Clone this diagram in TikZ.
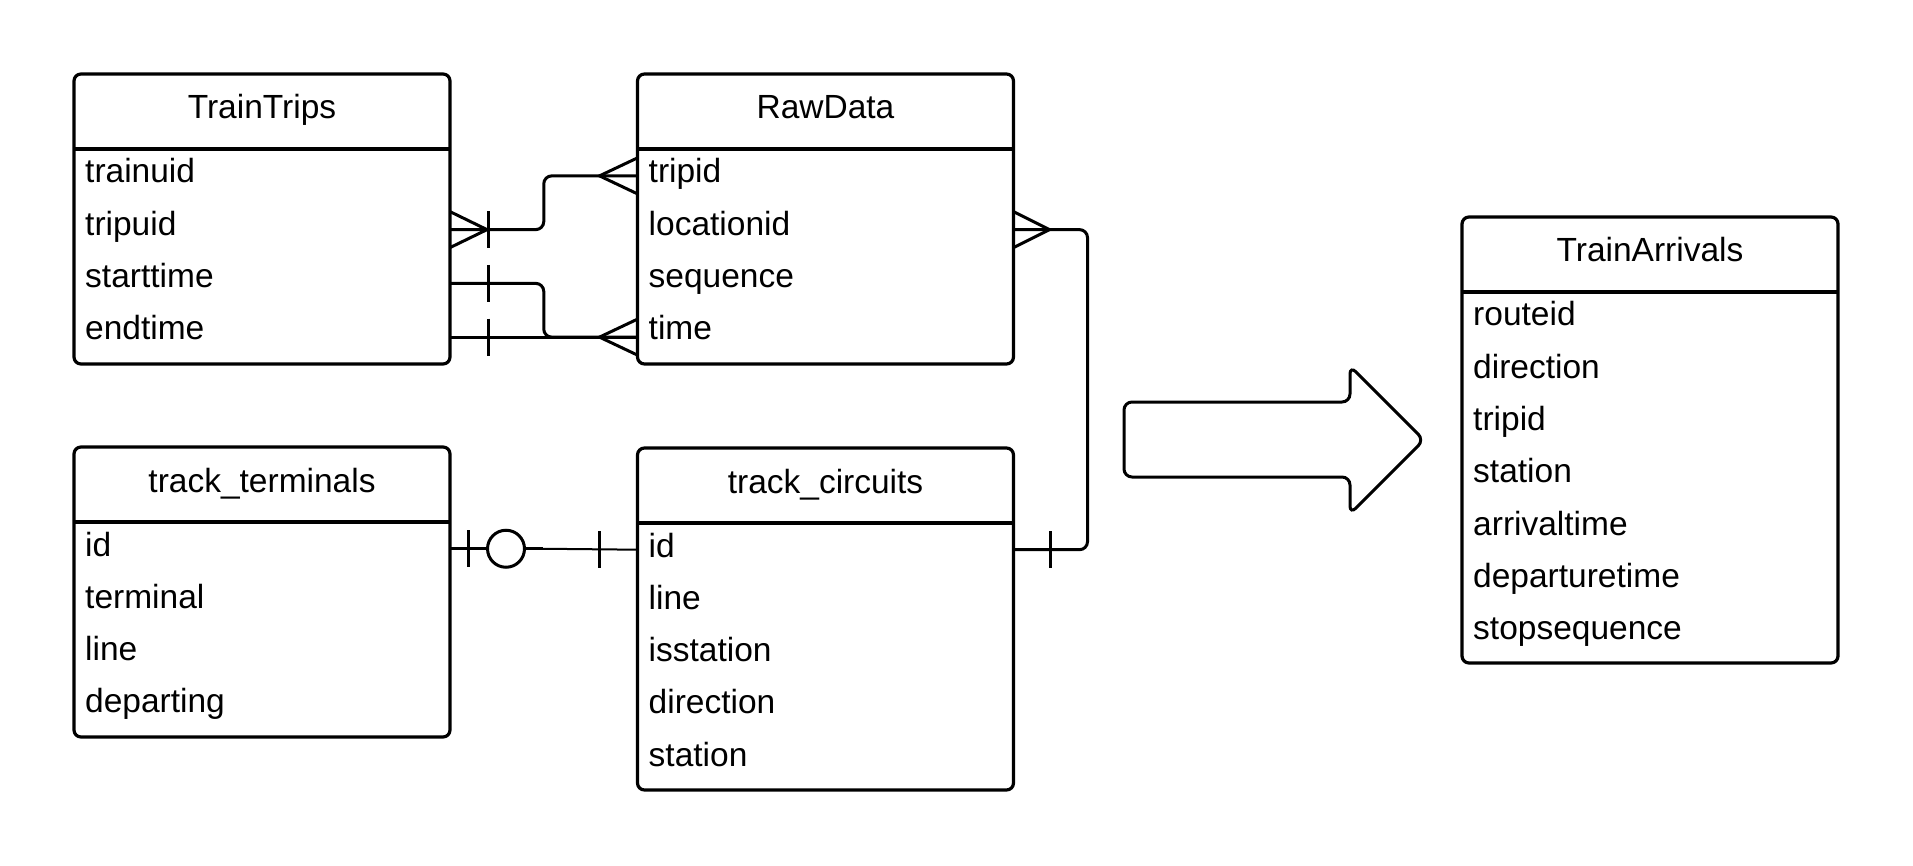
\documentclass[tikz,border=0pt]{standalone}
\usepackage{fontspec}
\setmainfont{Liberation Sans}
\usetikzlibrary{calc}
\tikzset{
  tbl/.style={draw, line width=3.2pt, rounded corners=7pt, minimum width=376pt, outer sep=0pt, inner sep=0pt},
  hdr/.style={line width=3.2pt},
  ttl/.style={anchor=base, inner sep=0pt, font=\fontsize{33.5}{40}\selectfont},
  fld/.style={anchor=base west, inner sep=0pt, font=\fontsize{33.5}{40}\selectfont},
  conn/.style={line width=3pt},
  thinconn/.style={line width=2pt},
  ring/.style={draw, circle, line width=3pt, minimum size=37pt, inner sep=0pt, outer sep=0pt},
  blockarrow/.style={line width=3pt, rounded corners=8pt},
}
\newcommand\ertbl[6]{%
  \node[tbl, minimum height=#4pt, anchor=north] (#1) at (#2,#3) {};
  \draw[hdr] ([yshift=-75pt]#1.north west) -- ([yshift=-75pt]#1.north east);
  \node[ttl] (#1-t) at ([yshift=-45pt]#1.north) {#5};
  \foreach \f [count=\i] in {#6} {
    \node[fld] (#1-\i) at ([xshift=11pt,yshift={-109pt-(\i-1)*52.3pt}]#1.north west) {\f};
  }
}
\newcommand\erports[3]{%
  \foreach \i in {1,...,#2} {
    \coordinate (#1-l\i) at ([yshift={-75pt-(\i-0.5)*#3pt}]#1.north west);
    \coordinate (#1-r\i) at ([yshift={-75pt-(\i-0.5)*#3pt}]#1.north east);
  }
}
\newcommand\ercrow[2]{\draw[conn] ($(#1)+(0,-18)$) -- ($(#1)+(#2,0)$) -- ($(#1)+(0,18)$);}
\newcommand\ertick[2]{\draw[conn] ($(#1)+(#2,-18.5)$) -- ($(#1)+(#2,18.5)$);}
\begin{document}
\begin{tikzpicture}[x=1pt,y=-1pt]
\useasboundingbox (0,0) rectangle (1913,866);
\ertbl{tt}{262}{74}{290}{TrainTrips}{trainuid,tripuid,starttime,endtime}
\ertbl{rd}{825.5}{74}{290}{RawData}{tripid,locationid,sequence,time}
\ertbl{tm}{262}{447}{290}{track\_terminals}{id,terminal,line,departing}
\ertbl{tc}{825.5}{448}{342}{track\_circuits}{id,line,isstation,direction,station}
\ertbl{ta}{1650}{217}{446}{TrainArrivals}{routeid,direction,tripid,station,arrivaltime,departuretime,stopsequence}
\erports{tt}{4}{53.75}
\erports{rd}{4}{53.75}
\erports{tm}{4}{53.5}
\erports{tc}{5}{53.4}
% TrainTrips -- RawData
\draw[conn, rounded corners=8pt] (tt-r2) -| ($(tt-r2)!.5!(rd-l1)$) |- (rd-l1);
\draw[conn, rounded corners=8pt] (tt-r3) -| ($(tt-r3)!.5!(rd-l4)$) |- (rd-l4);
\draw[conn] (tt-r4) -- (rd-l4);
\ercrow{tt-r2}{37}
\ertick{tt-r2}{38}
\ertick{tt-r3}{38}
\ertick{tt-r4}{38}
\ercrow{rd-l1}{-38}
\ercrow{rd-l4}{-38}
% RawData -- track_circuits
\draw[conn, rounded corners=8pt] (rd-r2) -| ([xshift=74pt]tc-r1) -- (tc-r1);
\ercrow{rd-r2}{36}
\ertick{tc-r1}{37}
% track_terminals -- track_circuits
\node[ring] (ring) at ($(tm-r1)+(56,0)$) {};
\draw[conn] (tm-r1) -- (ring.west);
\draw[conn] (ring.east) -- ++(18,0) coordinate (rj);
\draw[thinconn] (rj) -- (tc-l1);
\ertick{tm-r1}{18}
\ertick{tc-l1}{-38}
% block arrow
\draw[blockarrow] (1124,402) -- (1350,402) -- (1350,366) -- (1424,440) -- (1350,514) -- (1350,477) -- (1124,477) -- cycle;
\end{tikzpicture}
\end{document}
